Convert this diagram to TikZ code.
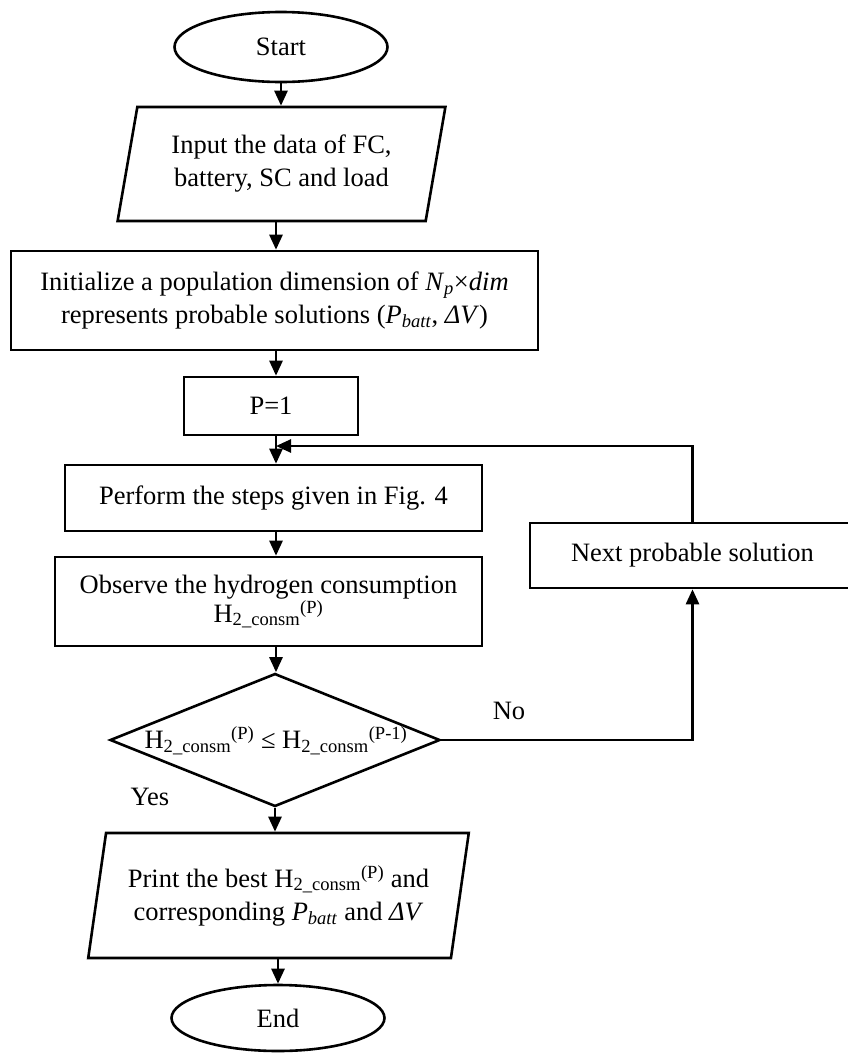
\documentclass[tikz,border=0pt]{standalone}
\usepackage{fontspec}
\setmainfont{Liberation Serif}
\usetikzlibrary{shapes.geometric,arrows.meta}

% hydrogen consumption symbol with iteration index
\newcommand{\hcons}[1]{H\textsubscript{2\_consm}\textsuperscript{(#1)}}

\tikzset{
  every node/.style={font=\fontsize{26.5}{33}\selectfont, align=center},
  box/.style={draw, line width=2.6pt, rectangle, inner sep=0pt},
  term/.style={draw, line width=2.6pt, ellipse, inner sep=0pt},
  io/.style={draw, line width=2.6pt, trapezium, trapezium stretches=true, inner sep=0pt},
  decision/.style={draw, line width=2.6pt, diamond, inner sep=0pt},
  arr/.style={line width=2.6pt, -{Triangle[length=15pt,width=13pt]}},
  lbl/.style={inner sep=0pt},
}

\begin{document}
\begin{tikzpicture}[x=1pt, y=-1pt]
  \useasboundingbox (0,0) rectangle (848,1053);

  % main vertical flow line
  \coordinate (axis) at (276,0);

  \node[term, minimum width=213, minimum height=70] (start) at (281,47) {Start};

  \node[io, trapezium left angle=75.3, trapezium right angle=104.7,
        minimum width=329, minimum height=114] (input) at (281.5,164)
        {Input the data of FC,\\ battery, SC and load};

  \node[box, minimum width=527, minimum height=99] (init) at (274.5,300.5)
        {Initialize a population dimension of \textit{N}\textsubscript{\textit{p}}×\textit{dim}\\
         represents probable solutions (\textit{P}\textsubscript{\textit{batt}}, \textit{ΔV})};

  \node[box, minimum width=174, minimum height=58] (p1) at (271,406) {P=1};

  \node[box, minimum width=417, minimum height=66] (perf) at (273.5,498)
        {Perform the steps given in Fig. 4};

  \node[box, minimum width=427, minimum height=89] (obs) at (268.5,601.5)
        {Observe the hydrogen consumption\\[-4pt] \hcons{P}};

  \node[decision, minimum width=330, minimum height=133] (dec) at (275,740) {};
  \node[lbl] (dectext) at (276,741) {\hcons{P} ≤ \hcons{P-1}};

  \node[box, minimum width=325, minimum height=65] (next) at (692.5,555.5)
        {Next probable solution};

  \node[io, trapezium left angle=75.6, trapezium right angle=104.4,
        minimum width=381, minimum height=125] (print) at (278.5,895.5)
        {Print the best \hcons{P} and\\ corresponding \textit{P}\textsubscript{\textit{batt}} and \textit{ΔV}};

  \node[term, minimum width=213, minimum height=66] (end) at (278,1018) {End};

  \node[lbl] (yes) at (150,797) {Yes};
  \node[lbl] (no) at (509,711) {No};

  % loop return point on the main flow line
  \coordinate (join) at (276,446);

  % connectors
  \draw[arr] (start.south) -- (start.south |- input.north);
  \draw[arr] (input.south -| axis) -- (init.north -| axis);
  \draw[arr] (init.south -| axis) -- (p1.north -| axis);
  \draw[arr] (p1.south -| axis) -- (perf.north -| axis);
  \draw[arr] (perf.south -| axis) -- (obs.north -| axis);
  \draw[arr] (obs.south -| axis) -- (dec.north -| axis);
  \draw[arr] (dec.south) -- (dec.south |- print.north);
  \draw[arr] (print.south -| end.north) -- (end.north);
  \draw[arr] (dec.east) -| (next.south);
  \draw[arr] (next.north) |- (join);
\end{tikzpicture}
\end{document}
